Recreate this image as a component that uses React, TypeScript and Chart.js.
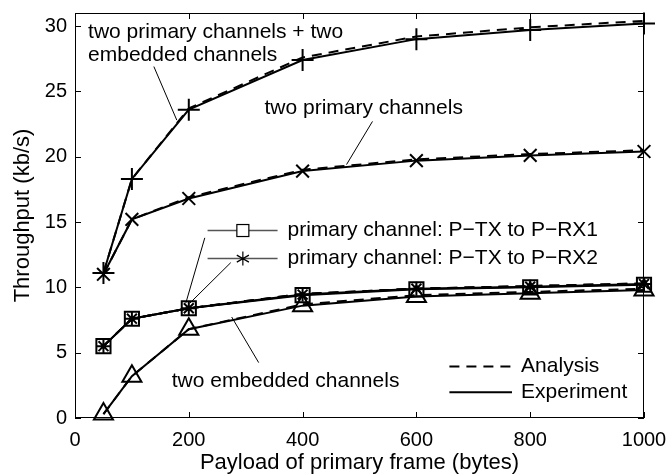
import React, { useEffect, useRef } from "react";
import { Chart, registerables } from "chart.js";

Chart.register(...registerables);

// ---- data ----
const payload = [50, 100, 200, 400, 600, 800, 1000];
const expBoth = [11.1, 18.3, 23.6, 27.4, 29.0, 29.7, 30.2];
const anaBoth = [11.1, 18.3, 23.7, 27.6, 29.2, 29.9, 30.4];
const expPrimary = [11.0, 15.2, 16.8, 18.9, 19.7, 20.1, 20.4];
const anaPrimary = [11.0, 15.2, 16.9, 19.0, 19.8, 20.2, 20.5];
const expRx1 = [5.5, 7.6, 8.4, 9.4, 9.85, 10.0, 10.2];
const expRx2 = [5.5, 7.6, 8.4, 9.45, 9.9, 10.05, 10.25];
const anaRx = [5.5, 7.6, 8.4, 9.5, 9.9, 10.1, 10.3];
const expEmbedded = [0.3, 3.2, 6.8, 8.6, 9.3, 9.55, 9.8];
const anaEmbedded = [0.3, 3.2, 6.8, 8.7, 9.4, 9.65, 9.9];

const xMin = 0;
const xMax = 1000;
const xStep = 200;
const yMin = 0;
const yMax = 31;
const yStep = 5;

const xTitle = "Payload of primary frame (bytes)";
const yTitle = "Throughput (kb/s)";
const labelBoth = ["two primary channels + two", "embedded channels"];
const labelPrimary = "two primary channels";
const labelRx1 = "primary channel: P\u2212TX to P\u2212RX1";
const labelRx2 = "primary channel: P\u2212TX to P\u2212RX2";
const labelEmbedded = "two embedded channels";
const legendAnalysis = "Analysis";
const legendExperiment = "Experiment";

const FONT = '"Liberation Sans", Arial, Helvetica, sans-serif';

const toPts = (ys: number[]) => payload.map((x, i) => ({ x, y: ys[i] }));

const expSet = (ys: number[], style: string, radius: number) => ({
  data: toPts(ys),
  borderColor: "#000",
  borderWidth: 2,
  pointStyle: style,
  pointRadius: radius,
  pointHoverRadius: radius,
  pointBorderWidth: 2,
  pointBorderColor: "#000",
  pointBackgroundColor: "rgba(0,0,0,0)",
  clip: false,
  tension: 0,
});

const anaSet = (ys: number[]) => ({
  data: toPts(ys),
  borderColor: "#000",
  borderWidth: 2,
  borderDash: [10, 7],
  pointRadius: 0,
  clip: false,
  tension: 0,
});

const decorPlugin = {
  id: "decor",
  beforeDatasetsDraw(chart: any) {
    const { ctx, chartArea: a, scales } = chart;
    ctx.save();
    ctx.strokeStyle = "#000";
    ctx.lineWidth = 1;
    ctx.strokeRect(a.left + 0.5, a.top + 0.5, a.right - a.left - 1, a.bottom - a.top - 1);
    const tl = 6;
    ctx.beginPath();
    scales.x.ticks.forEach((t: any) => {
      const px = Math.round(scales.x.getPixelForValue(t.value)) + 0.5;
      ctx.moveTo(px, a.bottom);
      ctx.lineTo(px, a.bottom - tl);
      ctx.moveTo(px, a.top);
      ctx.lineTo(px, a.top + tl);
    });
    scales.y.ticks.forEach((t: any) => {
      const py = Math.round(scales.y.getPixelForValue(t.value)) + 0.5;
      ctx.moveTo(a.left, py);
      ctx.lineTo(a.left + tl, py);
      ctx.moveTo(a.right, py);
      ctx.lineTo(a.right - tl, py);
    });
    ctx.stroke();
    ctx.restore();
  },
  afterDatasetsDraw(chart: any) {
    const { ctx, scales } = chart;
    const X = (v: number) => scales.x.getPixelForValue(v);
    const Y = (v: number) => scales.y.getPixelForValue(v);
    ctx.save();
    ctx.fillStyle = "#000";
    ctx.strokeStyle = "#000";
    ctx.font = `21px ${FONT}`;
    ctx.textAlign = "left";
    ctx.textBaseline = "alphabetic";

    const leader = (x1: number, y1: number, x2: number, y2: number) => {
      ctx.beginPath();
      ctx.lineWidth = 1;
      ctx.setLineDash([]);
      ctx.moveTo(X(x1), Y(y1));
      ctx.lineTo(X(x2), Y(y2));
      ctx.stroke();
    };

    // two primary + two embedded
    ctx.fillText(labelBoth[0], X(23), Y(29.1));
    ctx.fillText(labelBoth[1], X(23), Y(27.35));
    leader(138.6, 26.9, 178.9, 22.8);

    // two primary channels
    ctx.fillText(labelPrimary, X(333), Y(23.3));
    leader(522.8, 22.7, 477.2, 19.4);

    // two embedded channels
    ctx.fillText(labelEmbedded, X(170), Y(2.35));
    leader(275.4, 7.73, 322.8, 4.24);

    // primary channel legend-like entries
    ctx.textBaseline = "middle";
    const rows = [
      { y: 14.35, text: labelRx1, mark: "rect" },
      { y: 12.2, text: labelRx2, mark: "star" },
    ];
    rows.forEach((r) => {
      const py = Y(r.y);
      ctx.beginPath();
      ctx.strokeStyle = "#555";
      ctx.lineWidth = 1.5;
      ctx.moveTo(X(233), py);
      ctx.lineTo(X(356), py);
      ctx.stroke();
      const mx = X(295);
      ctx.strokeStyle = "#000";
      ctx.lineWidth = 1.2;
      if (r.mark === "rect") {
        ctx.fillStyle = "#fff";
        ctx.fillRect(mx - 6, py - 6, 12, 12);
        ctx.strokeRect(mx - 6, py - 6, 12, 12);
      } else {
        ctx.beginPath();
        for (let k = 0; k < 3; k++) {
          const ang = (Math.PI / 3) * k + Math.PI / 2;
          ctx.moveTo(mx + Math.cos(ang) * 7, py + Math.sin(ang) * 7);
          ctx.lineTo(mx - Math.cos(ang) * 7, py - Math.sin(ang) * 7);
        }
        ctx.stroke();
      }
      ctx.fillStyle = "#000";
      ctx.fillText(r.text, X(373.5), py);
    });
    ctx.strokeStyle = "#000";
    leader(228.1, 13.79, 194.7, 8.79);
    leader(273.7, 11.89, 201.8, 8.79);

    // Analysis / Experiment legend
    const lg = [
      { y: 3.94, text: legendAnalysis, dash: [10, 7] },
      { y: 1.97, text: legendExperiment, dash: [] },
    ];
    lg.forEach((l) => {
      const py = Y(l.y);
      ctx.beginPath();
      ctx.lineWidth = 2;
      ctx.setLineDash(l.dash);
      ctx.moveTo(X(658), py);
      ctx.lineTo(X(768), py);
      ctx.stroke();
      ctx.setLineDash([]);
      ctx.fillText(l.text, X(784), py);
    });
    ctx.restore();
  },
};

export default function App() {
  const ref = useRef<HTMLCanvasElement>(null);
  useEffect(() => {
    if (!ref.current) return;
    const chart = new Chart(ref.current, {
      type: "line",
      data: {
        datasets: [
          expSet(expBoth, "cross", 11),
          expSet(expPrimary, "crossRot", 9),
          expSet(expRx1, "rect", 10),
          expSet(expRx2, "star", 7),
          expSet(expEmbedded, "triangle", 11),
          anaSet(anaBoth),
          anaSet(anaPrimary),
          anaSet(anaRx),
          anaSet(anaRx),
          anaSet(anaEmbedded),
        ] as any,
      },
      options: {
        animation: false,
        responsive: false,
        devicePixelRatio: 1,
        layout: { padding: { left: 0, top: 8, right: 24, bottom: 0 } },
        plugins: { legend: { display: false }, tooltip: { enabled: false } },
        events: [],
        scales: {
          x: {
            type: "linear",
            min: xMin,
            max: xMax,
            afterFit: (s: any) => {
              s.height = 56;
              s.paddingLeft = 0;
              s.paddingRight = 0;
            },
            ticks: {
              stepSize: xStep,
              includeBounds: false,
              color: "#000",
              font: { family: FONT, size: 20 },
              padding: 10,
              maxRotation: 0,
              callback: (v: any) => String(v),
            },
            grid: { display: false, drawTicks: false },
            border: { display: false },
            title: {
              display: true,
              text: xTitle,
              color: "#000",
              font: { family: FONT, size: 22, lineHeight: 1 },
              padding: { top: 0, bottom: 0 },
            },
          },
          y: {
            type: "linear",
            min: yMin,
            max: yMax,
            afterFit: (s: any) => {
              s.width = 75;
              s.paddingTop = 0;
              s.paddingBottom = 0;
            },
            ticks: {
              stepSize: yStep,
              includeBounds: false,
              color: "#000",
              font: { family: FONT, size: 20 },
              padding: 8,
              callback: (v: any) => String(v),
            },
            grid: { display: false, drawTicks: false },
            border: { display: false },
            title: {
              display: true,
              text: yTitle,
              color: "#000",
              font: { family: FONT, size: 22, lineHeight: 1.2 },
              padding: { top: 10, bottom: 0 },
            },
          },
        },
      },
      plugins: [decorPlugin],
    });
    return () => chart.destroy();
  }, []);
  return (
    <div style={{ position: "absolute", left: 0, top: 0, width: 668, height: 474, background: "#fff" }}>
      <canvas ref={ref} width={668} height={474} />
    </div>
  );
}
